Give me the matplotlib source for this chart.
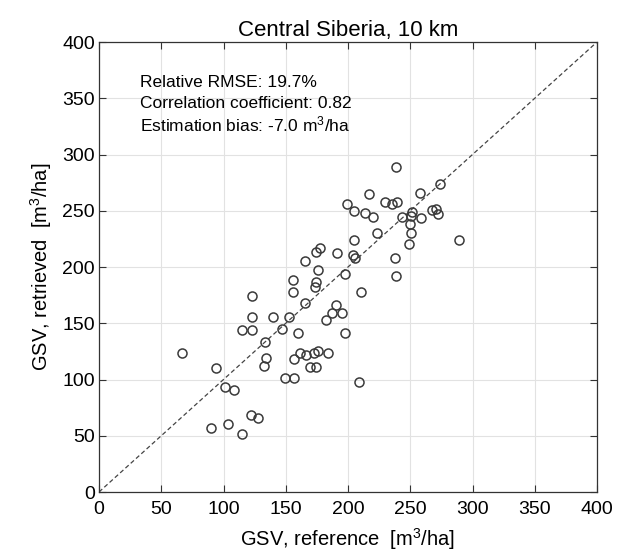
import matplotlib.pyplot as plt

# === FONTS ===
plt.rcParams['font.family'] = ['Liberation Sans', 'DejaVu Sans']
plt.rcParams['mathtext.fontset'] = 'custom'
plt.rcParams['mathtext.rm'] = 'Liberation Sans'
plt.rcParams['mathtext.it'] = 'Liberation Sans'

# === DATA ===
gsv_reference = [
    66.4, 94.3, 101.5, 108.7, 90.2, 103.7, 114.5, 121.8, 127.7, 122.7,
    123.0, 139.4, 114.5, 123.0, 147.0, 133.3, 133.8, 132.5, 155.5, 152.7,
    165.3, 160.0, 190.0, 187.0, 195.0, 182.5, 197.7, 161.8, 157.0, 166.5,
    172.3, 175.8, 184.1, 169.4, 174.5, 149.3, 156.8, 208.8, 210.5, 174.4,
    173.4, 155.8, 176.1, 197.5, 165.4, 204.2, 205.5, 191.3, 177.4, 174.5,
    205.0, 223.5, 198.8, 204.7, 213.6, 219.7, 217.0, 229.6, 235.0, 239.3,
    238.7, 274.2, 258.2, 251.7, 250.9, 243.0, 259.0, 267.8, 270.5, 272.4,
    249.7, 251.0, 249.1, 289.0, 237.6, 238.8,
]
gsv_retrieved = [
    123.3, 110.0, 93.0, 91.0, 56.6, 60.4, 51.6, 68.4, 65.6, 174.2,
    155.3, 155.3, 144.3, 144.3, 144.6, 133.6, 119.2, 112.2, 177.4, 155.3,
    168.4, 141.6, 166.2, 159.5, 159.2, 152.9, 141.6, 123.8, 118.0, 121.5,
    123.8, 125.5, 123.3, 111.4, 111.4, 101.3, 101.3, 97.5, 177.4, 186.5,
    182.3, 188.4, 197.6, 194.0, 205.0, 210.7, 207.7, 212.1, 217.0, 213.3,
    223.7, 230.2, 256.0, 249.8, 247.7, 244.7, 264.9, 257.8, 256.0, 257.8,
    288.5, 273.5, 265.5, 248.6, 245.6, 244.7, 243.3, 250.7, 251.6, 247.1,
    237.9, 230.5, 220.4, 224.0, 207.7, 192.3,
]
ticks = [0, 50, 100, 150, 200, 250, 300, 350, 400]
stats_text = ['Relative RMSE: 19.7%',
              'Correlation coefficient: 0.82',
              r'Estimation bias: -7.0 m$^3$/ha']

# === PLOT ===
fig = plt.figure(figsize=(6.25, 5.53), dpi=100)
ax = fig.add_axes([0.1584, 0.1103, 0.7968, 0.8137])

# 1:1 line
ax.plot([0, 400], [0, 400], linestyle=(0, (3.5, 2.2)), color='#444444', linewidth=0.9, zorder=2)
ax.plot(gsv_reference, gsv_retrieved, linestyle='none', marker='o', markersize=6.5,
        markerfacecolor='none', markeredgecolor='#3a3a3a', markeredgewidth=1.1, zorder=3)

ax.set_xlim(0, 400)
ax.set_ylim(0, 400)
ax.set_xticks(ticks)
ax.set_yticks(ticks)
ax.grid(True, color='#e2e2e2', linewidth=0.8, zorder=0)
ax.set_axisbelow(True)
ax.tick_params(direction='in', top=True, right=True, length=5, width=0.8,
               labelsize=14, color='#333333')
ax.tick_params(axis='x', pad=6.5)
ax.tick_params(axis='y', pad=3)
for sp in ax.spines.values():
    sp.set_color('#333333')
    sp.set_linewidth(0.9)

ax.set_title('Central Siberia, 10 km', fontsize=16, pad=4)
ax.set_xlabel(r'GSV, reference  [m$^3$/ha]', fontsize=14.5, labelpad=6)
ax.set_ylabel(r'GSV, retrieved  [m$^3$/ha]', fontsize=14.5, labelpad=6)

for i, line in enumerate(stats_text):
    ax.text(33, 364 - i * 18.5, line, fontsize=12.5, va='center', ha='left')

fig.savefig('out.png', dpi=100)
